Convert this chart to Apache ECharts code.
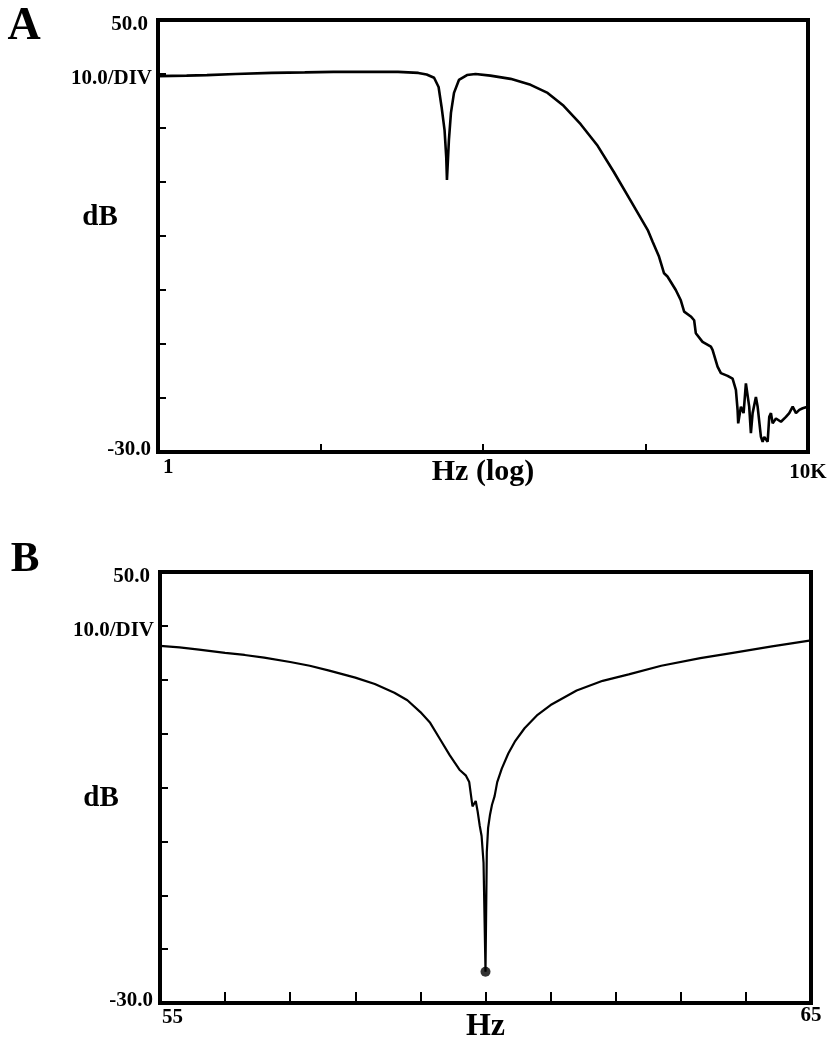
<!DOCTYPE html>
<html>
<head>
<meta charset="utf-8">
<script src="https://cdn.jsdelivr.net/npm/echarts@6/dist/echarts.min.js"></script>
<style>
html,body{margin:0;padding:0;background:#fff;}
#chart{width:830px;height:1042px;}
</style>
</head>
<body>
<div id="chart"></div>
<script>
// ---- Panel A data (frequency response, log Hz) ----
const freqA = [1, 1.5, 2, 3, 5, 8, 12, 20, 30, 40, 45, 50, 53.3, 55.6, 58, 59.4, 60, 61.7, 63.5, 66.3, 71.1, 79.7, 90, 111, 147.8, 196.3, 249.8, 313.4, 399, 507.7, 637.3, 811.5, 1032.5, 1108, 1207, 1301, 1365, 1536, 1649, 1729, 1900, 1992, 2040, 2244, 2525, 2586, 2776, 2910, 3200, 3435, 3600, 3687, 3719, 3865, 4015, 4148, 4250, 4347, 4453, 4562, 4780, 4898, 5132, 5258, 5379, 5645, 5775, 5916, 6060, 6350, 6817, 7316, 7668, 8050, 8232, 8435, 8841, 9276, 9960];
const dbA   = [39.6, 39.7, 39.8, 40.0, 40.2, 40.3, 40.4, 40.4, 40.4, 40.2, 39.9, 39.3, 37.6, 33.9, 29.6, 24.6, 20.4, 27.8, 32.8, 36.5, 38.9, 39.8, 40.0, 39.7, 39.1, 38.0, 36.5, 34.1, 30.7, 26.7, 21.9, 16.5, 11.1, 8.9, 6.3, 3.1, 2.5, 0.0, -1.9, -4.0, -4.9, -5.6, -8.0, -9.6, -10.5, -11.1, -14.2, -15.4, -15.9, -16.4, -18.5, -22.2, -24.7, -21.6, -22.8, -17.3, -17.0, -21.6, -26.5, -22.8, -19.8, -21.6, -27.2, -28.1, -27.2, -28.1, -23.5, -22.8, -24.7, -23.8, -24.4, -23.5, -22.8, -21.6, -21.3, -22.8, -22.2, -21.9, -21.6];

// ---- Panel B data (55-65 Hz, linear) ----
const freqB = [55.0, 55.3, 55.6, 56.0, 56.3, 56.6, 57.0, 57.3, 57.6, 58.0, 58.3, 58.6, 58.8, 59.0, 59.15, 59.3, 59.45, 59.6, 59.7, 59.75, 59.8, 59.85, 59.88, 59.91, 59.94, 59.97, 60.0, 60.02, 60.04, 60.07, 60.10, 60.14, 60.18, 60.25, 60.35, 60.45, 60.6, 60.8, 61.0, 61.4, 61.8, 62.2, 62.7, 63.3, 63.8, 64.4, 65.0];
const dbB   = [36.3, 36.0, 35.6, 35.0, 34.6, 34.1, 33.3, 32.6, 31.7, 30.4, 29.2, 27.6, 26.2, 24.0, 22.0, 19.0, 16.0, 13.3, 12.2, 11.0, 6.5, 7.5, 5.5, 3.0, 1.0, -4.0, -24.2, -2.0, 2.5, 5.0, 6.8, 8.4, 11.0, 13.5, 16.3, 18.5, 21.0, 23.5, 25.3, 28.0, 29.8, 31.0, 32.6, 34.0, 35.0, 36.2, 37.3];
const markerB = [60.0, -24.2];

// ---- Tick labels ----
const yLabelValues = [50, 40, -30];
const yLabelTexts  = ['50.0', '10.0/DIV', '-30.0'];
const xLabelValuesA = [1, 10000];
const xLabelTextsA  = ['1', '10K'];
const xLabelValuesB = [55, 65];
const xLabelTextsB  = ['55', '65'];
const panelLetters = ['A', 'B'];
const yAxisTitle = 'dB';
const xAxisTitles = ['Hz (log)', 'Hz'];

const FONT = "'Liberation Serif', 'Times New Roman', serif";
const txt = {color: '#000', fontFamily: FONT, fontWeight: 'bold', fontSize: 21};

function yFormatter(v) {
  const i = yLabelValues.indexOf(Math.round(v));
  if (i < 0) return '';
  return (i === 2 ? '{b|' : (i === 0 ? '{t|' : '{d|')) + yLabelTexts[i] + '}';
}
const yRich = {
  t: Object.assign({}, txt, {padding: [10, 4, 0, 0]}),
  d: Object.assign({}, txt, {padding: [10, 0, 0, 0]}),
  b: Object.assign({}, txt, {padding: [0, 1, 5, 0]})
};
function makeXFormatter(vals, texts) {
  return function (v) {
    for (let i = 0; i < vals.length; i++) {
      if (Math.abs(v - vals[i]) < 1e-6 * Math.max(1, vals[i])) {
        return (i === 0 ? '{l|' : '{r|') + texts[i] + '}';
      }
    }
    return '';
  };
}

function yAxisDef(gi) {
  return {
    gridIndex: gi, type: 'value', min: -30, max: 50, interval: 10,
    axisLine: {show: false, onZero: false},
    axisTick: {show: true, inside: true, length: 8, lineStyle: {color: '#000', width: 2}},
    splitLine: {show: false},
    axisLabel: Object.assign({}, txt, {margin: 6, formatter: yFormatter, rich: yRich})
  };
}

const chart = echarts.init(document.getElementById('chart'), null, {renderer: 'canvas'});
chart.setOption({
  animation: false,
  backgroundColor: '#fff',
  grid: [
    {left: 158, top: 20, width: 650, height: 432, show: true, borderColor: '#000', borderWidth: 4, backgroundColor: 'transparent', containLabel: false, outerBoundsMode: 'none'},
    {left: 160, top: 572, width: 651, height: 431, show: true, borderColor: '#000', borderWidth: 4, backgroundColor: 'transparent', containLabel: false, outerBoundsMode: 'none'}
  ],
  xAxis: [
    {
      gridIndex: 0, type: 'log', logBase: 10, min: 1, max: 10000,
      axisLine: {show: false, onZero: false},
      axisTick: {show: true, inside: true, length: 8, lineStyle: {color: '#000', width: 2}},
      splitLine: {show: false},
      minorTick: {show: false},
      axisLabel: Object.assign({}, txt, {
        margin: 5, alignMinLabel: 'left', alignMaxLabel: 'center',
        formatter: makeXFormatter(xLabelValuesA, xLabelTextsA),
        rich: {l: Object.assign({}, txt, {padding: [0, 0, 0, 5]}), r: Object.assign({}, txt, {padding: [5, 0, 0, 0]})}
      }),
      name: xAxisTitles[0], nameLocation: 'middle', nameGap: 20, nameMoveOverlap: false,
      nameTextStyle: {color: '#000', fontFamily: FONT, fontWeight: 'bold', fontSize: 30, verticalAlign: 'middle'}
    },
    {
      gridIndex: 1, type: 'value', min: 55, max: 65, interval: 1,
      axisLine: {show: false, onZero: false},
      axisTick: {show: true, inside: true, length: 11, lineStyle: {color: '#000', width: 2}},
      splitLine: {show: false},
      axisLabel: Object.assign({}, txt, {
        margin: 2, alignMinLabel: 'left', alignMaxLabel: 'center',
        formatter: makeXFormatter(xLabelValuesB, xLabelTextsB),
        rich: {l: Object.assign({}, txt, {padding: [2, 0, 0, 2]}), r: Object.assign({}, txt, {padding: [0, 0, 0, 0]})}
      }),
      name: xAxisTitles[1], nameLocation: 'middle', nameGap: 24, nameMoveOverlap: false,
      nameTextStyle: {color: '#000', fontFamily: FONT, fontWeight: 'bold', fontSize: 32, verticalAlign: 'middle'}
    }
  ],
  yAxis: [yAxisDef(0), yAxisDef(1)],
  series: [
    {
      type: 'line', xAxisIndex: 0, yAxisIndex: 0, showSymbol: false, symbol: 'none',
      lineStyle: {color: '#000', width: 2.6}, z: 5,
      data: freqA.map((f, i) => [f, dbA[i]])
    },
    {
      type: 'line', xAxisIndex: 1, yAxisIndex: 1, showSymbol: false, symbol: 'none',
      lineStyle: {color: '#000', width: 2.2}, z: 5,
      data: freqB.map((f, i) => [f, dbB[i]])
    },
    {
      type: 'scatter', xAxisIndex: 1, yAxisIndex: 1, symbol: 'circle', symbolSize: 10,
      itemStyle: {color: '#000'}, z: 6,
      data: [markerB]
    }
  ],
  graphic: [
    {type: 'text', x: 24, y: 27, style: {text: panelLetters[0], fill: '#000', fontFamily: FONT, fontWeight: 'bold', fontSize: 46, align: 'center', verticalAlign: 'middle'}},
    {type: 'text', x: 25, y: 560, style: {text: panelLetters[1], fill: '#000', fontFamily: FONT, fontWeight: 'bold', fontSize: 43, align: 'center', verticalAlign: 'middle'}},
    {type: 'text', x: 100, y: 218, style: {text: yAxisTitle, fill: '#000', fontFamily: FONT, fontWeight: 'bold', fontSize: 29, align: 'center', verticalAlign: 'middle'}},
    {type: 'text', x: 101, y: 799, style: {text: yAxisTitle, fill: '#000', fontFamily: FONT, fontWeight: 'bold', fontSize: 29, align: 'center', verticalAlign: 'middle'}}
  ]
});
</script>
</body>
</html>
